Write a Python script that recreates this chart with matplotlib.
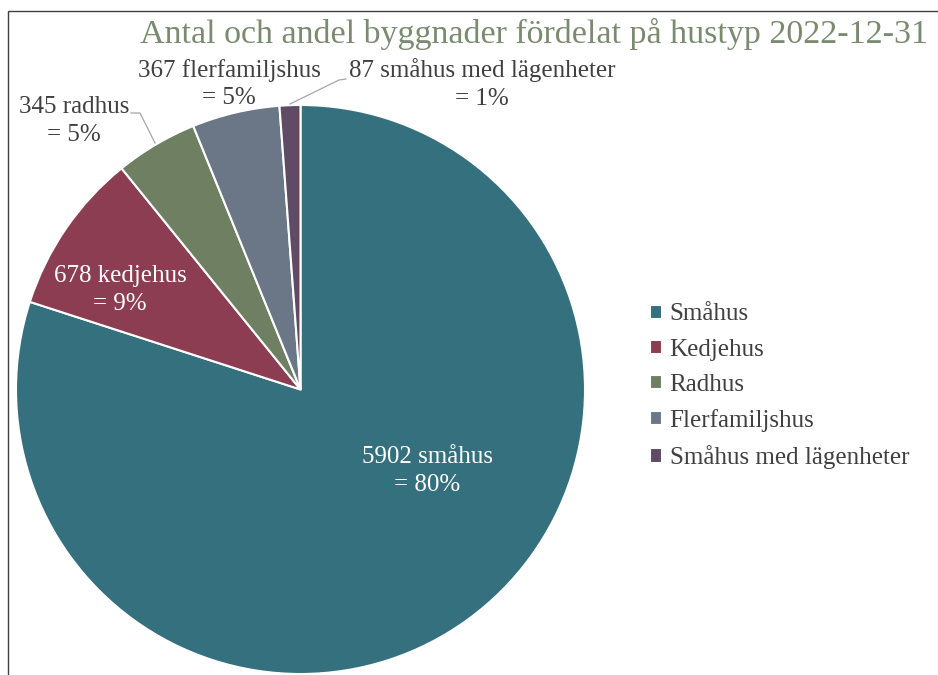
import matplotlib
matplotlib.use("Agg")
import matplotlib.pyplot as plt
from matplotlib.patches import Rectangle

categories = ["Småhus", "Kedjehus", "Radhus", "Flerfamiljshus", "Småhus med lägenheter"]
label_names = ["småhus", "kedjehus", "radhus", "flerfamiljshus", "småhus med lägenheter"]
values = [5902, 678, 345, 367, 87]
colors = ["#35707E", "#8C3D52", "#6F8062", "#6B7787", "#5F4B65"]
title = "Antal och andel byggnader fördelat på hustyp 2022-12-31"

W, H = 938, 675
plt.rcParams['font.family'] = ['Liberation Serif', 'DejaVu Serif']
fig = plt.figure(figsize=(W / 100, H / 100), dpi=100)

# frame
fig.patches.append(Rectangle((8 / W, -0.1), 1.2, (H - 11) / H + 0.1, transform=fig.transFigure,
                             fill=False, edgecolor="#404040", linewidth=1.0))

cx, cy, r = 300.5, 389.5, 284.5
ax = fig.add_axes([(cx - r) / W, (H - cy - r) / H, 2 * r / W, 2 * r / H])

wedges, _ = ax.pie(values, colors=colors, startangle=90, counterclock=False, radius=1,
                   wedgeprops=dict(edgecolor="white", linewidth=1.5))
ax.set_xlim(-1, 1)
ax.set_ylim(-1, 1)
ax.axis("off")

def p2d(px, py):
    return ((px - cx) / r, (cy - py) / r)

total = sum(values)
pcts = [round(v / total * 100) for v in values]
labels = [f"{v} {n}\n= {p}%" for v, n, p in zip(values, label_names, pcts)]

label_pos = [(427, 471), (120, 290), (74, 121), (229, 84), (482, 84)]
label_col = ["white", "white", "#404040", "#404040", "#404040"]
for lab, (px, py), c in zip(labels, label_pos, label_col):
    ax.text(*p2d(px, py), lab, ha="center", va="center", fontsize=18, color=c,
            linespacing=1.32, clip_on=False)

# leader lines
lx = [p2d(131, 113), p2d(140, 113), p2d(155, 143)]
ax.plot([p[0] for p in lx], [p[1] for p in lx], color="#A6A6A6", lw=0.9, clip_on=False)
lx = [p2d(346, 79), p2d(339, 80), p2d(290, 104)]
ax.plot([p[0] for p in lx], [p[1] for p in lx], color="#A6A6A6", lw=0.9, clip_on=False)

fig.text(534 / W, 1 - 34 / H, title, ha="center", va="center", fontsize=24.5, color="#7A8B6F")

leg = fig.legend(wedges, categories, loc="upper left", bbox_to_anchor=(637 / W, 1 - 291 / H),
                 frameon=False, fontsize=18, handlelength=0.5, handleheight=0.5,
                 handletextpad=0.3, labelspacing=0.53, borderpad=0)
for t in leg.get_texts():
    t.set_color("#404040")

fig.savefig("out.png", dpi=100)
